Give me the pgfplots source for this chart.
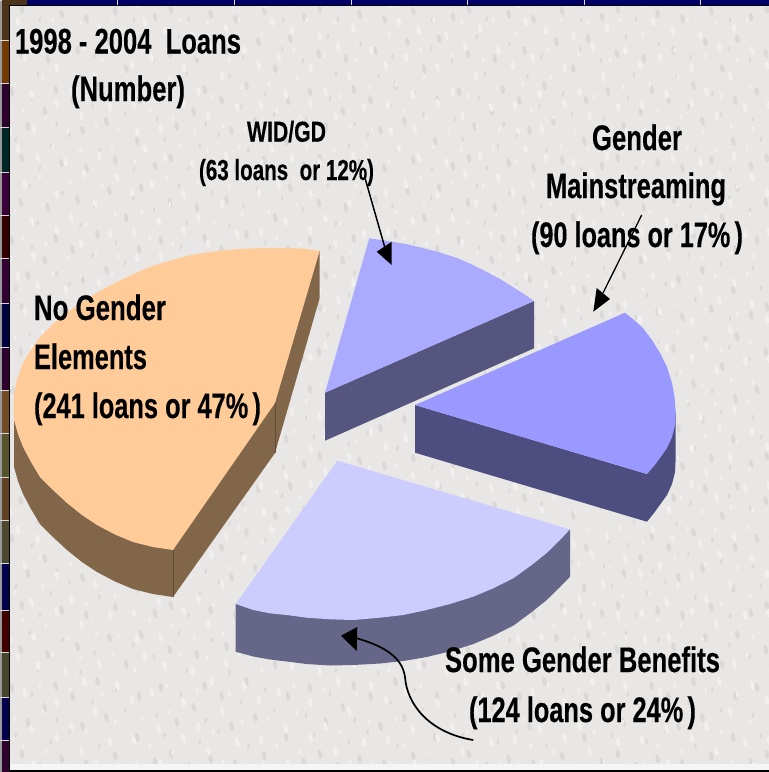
\documentclass[border=0pt]{standalone}
\usepackage{pgfplots}
\pgfplotsset{compat=1.18}
\usetikzlibrary{patterns}
\usepackage{graphicx}
\usepackage{fontspec}
\setmainfont{Liberation Sans}[BoldFont={Liberation Sans Bold},BoldFeatures={FakeBold=0.35}]
\definecolor{bgc}{HTML}{E8E7E5}
\definecolor{speckG}{HTML}{DAD9D7}
\definecolor{speckW}{HTML}{F1F0EF}
\definecolor{navyc}{HTML}{000066}
\definecolor{orangeT}{HTML}{FFCC99}
\definecolor{orangeS}{HTML}{826649}
\definecolor{widT}{HTML}{AAAAFF}
\definecolor{widS}{HTML}{55557F}
\definecolor{gmT}{HTML}{9999FF}
\definecolor{gmS}{HTML}{4D4D80}
\definecolor{sgT}{HTML}{CCCCFF}
\definecolor{sgS}{HTML}{666688}
\newcommand{\sk}[2]{\pgfpathellipse{\pgfpoint{#1pt}{#2pt}}{\pgfpoint{2.2pt}{0.3pt}}{\pgfpoint{-0.8pt}{4.6pt}}}
\newcommand{\sm}[2]{\pgfpathellipse{\pgfpoint{#1pt}{#2pt}}{\pgfpoint{1.2pt}{-0.2pt}}{\pgfpoint{0.5pt}{2.6pt}}}
\pgfdeclarepatternformonly{speckA}{\pgfqpoint{0pt}{0pt}}{\pgfqpoint{149pt}{149pt}}{\pgfqpoint{149pt}{149pt}}{%
 \sk{7}{11}\sm{17}{38}\sk{23}{19}\sm{41}{9}\sm{52}{31}\sk{63}{14}\sm{71}{42}\sk{88}{9}\sm{101}{27}\sk{117}{17}\sm{136}{8}\sk{139}{36}%
 \sm{9}{58}\sk{29}{51}\sk{46}{66}\sm{58}{53}\sk{84}{47}\sm{94}{71}\sk{108}{56}\sm{127}{63}\sk{141}{77}%
 \sk{13}{86}\sm{33}{79}\sm{39}{103}\sk{57}{88}\sk{74}{77}\sm{82}{101}\sk{99}{92}\sm{118}{84}\sk{128}{109}%
 \sm{6}{117}\sk{22}{124}\sk{49}{119}\sm{64}{134}\sk{79}{127}\sm{96}{121}\sk{111}{136}\sm{135}{129}\sm{31}{141}\sk{143}{139}\pgfusepath{fill}}
\pgfdeclarepatternformonly{speckB}{\pgfqpoint{0pt}{0pt}}{\pgfqpoint{127pt}{127pt}}{\pgfqpoint{127pt}{127pt}}{%
 \sk{11}{7}\sm{24}{27}\sk{35}{9}\sm{47}{21}\sk{58}{35}\sm{69}{7}\sk{83}{22}\sm{98}{12}\sk{112}{31}\sm{120}{9}%
 \sk{8}{33}\sm{16}{54}\sk{33}{44}\sm{44}{61}\sk{73}{47}\sm{88}{42}\sk{97}{62}\sm{117}{51}%
 \sk{6}{73}\sk{26}{81}\sm{41}{88}\sk{58}{71}\sm{72}{83}\sk{86}{92}\sm{104}{79}\sk{119}{88}%
 \sm{9}{104}\sk{19}{117}\sk{39}{108}\sm{54}{119}\sk{67}{103}\sm{82}{116}\sk{101}{110}\sm{114}{119}\pgfusepath{fill}}
\newcommand{\lab}[5]{\node[anchor=base west,inner sep=0pt,outer sep=0pt] at (axis cs:#1,#2) {\resizebox{#3pt}{\height}{\fontsize{#4pt}{#4pt}\selectfont\bfseries #5}};}
\newcommand{\sg}[3]{\fill[#3] (axis cs:2,#1) rectangle (axis cs:8.5,#2);\fill[black!15] (axis cs:0,#1) rectangle (axis cs:8.5,#1.9);}
\begin{document}
\begin{tikzpicture}
\begin{axis}[
  scale only axis, width=769pt, height=772pt,
  xmin=0, xmax=769, ymin=0, ymax=772, y dir=reverse,
  hide axis, clip=true]
% background
\addplot[fill=bgc,draw=none] coordinates {(0,0) (769,0) (769,772) (0,772)} --cycle;
\addplot[pattern=speckA,pattern color=speckG,draw=none] coordinates {(0,0) (769,0) (769,772) (0,772)} --cycle;
\addplot[pattern=speckB,pattern color=speckW,draw=none] coordinates {(0,0) (769,0) (769,772) (0,772)} --cycle;
\addplot[fill=black!4,draw=none] coordinates {(9,764) (769,764) (769,770) (9,770)} --cycle;
% frame
\fill[black!40] (axis cs:0,0) rectangle (axis cs:2.2,772);
\sg{0}{40}{black!60!brown}
\sg{40}{83}{orange!45!black}
\sg{83}{127}{violet!35!black}
\sg{127}{172}{teal!30!black}
\sg{172}{215}{violet!45!black}
\sg{215}{258}{red!20!black}
\sg{258}{303}{violet!40!black}
\sg{303}{347}{blue!25!black}
\sg{347}{390}{violet!35!black}
\sg{390}{433}{brown!60!black}
\sg{433}{477}{olive!50!black}
\sg{477}{520}{brown!50!black}
\sg{520}{563}{olive!40!black}
\sg{563}{610}{blue!30!black}
\sg{610}{652}{red!25!black}
\sg{652}{697}{olive!35!black}
\sg{697}{740}{blue!30!black}
\sg{740}{772}{violet!35!black}
\fill[black] (axis cs:8.5,5) rectangle (axis cs:10,772);
\fill[black] (axis cs:8.5,770) rectangle (axis cs:769,772);
\fill[navyc] (axis cs:27,0) rectangle (axis cs:769,5);
\fill[black!60!brown] (axis cs:2,0) rectangle (axis cs:27,5);
\fill[black] (axis cs:8.5,5) rectangle (axis cs:769,6);
\fill[black!15] (axis cs:117,0) rectangle (axis cs:118.4,5);
\fill[black!15] (axis cs:234,0) rectangle (axis cs:235.4,5);
\fill[black!15] (axis cs:350.5,0) rectangle (axis cs:351.9,5);
\fill[black!15] (axis cs:467,0) rectangle (axis cs:468.4,5);
\fill[black!15] (axis cs:583.5,0) rectangle (axis cs:584.9,5);
\fill[black!15] (axis cs:700,0) rectangle (axis cs:701.4,5);
% No Gender Elements: 241 loans
\addplot[fill=orangeS,draw=none] coordinates {(319.7,250.7) (319.7,298) (275,453) (173,597) (153,594) (133,589) (115,581.5) (97,572) (82,562) (67,550) (53,537) (40,524) (31,509) (23,494) (18,481) (14,467) (14,393)} --cycle;
\addplot[fill=orangeT,draw=none] coordinates {(319.7,250.7) (300,248.5) (280,248) (260,248) (240,249) (220,250.7) (203,253) (187,256) (167,261.5) (147,268) (127,277) (107,287) (88,298) (70,310) (54,323) (40,337) (31,350) (23,363) (17.5,378) (14,393) (13.5,407) (14,420) (18,434) (23,447) (31,462) (40,477) (53,490) (67,503) (82,515) (97,525) (115,534.5) (133,542) (153,547) (173,550) (275,403)} --cycle;
\addplot[draw=black!25!orangeS,line width=0.5pt] coordinates {(173,550) (173,597)};
\addplot[draw=black!25!orangeS,line width=0.5pt] coordinates {(275,403) (275,453)};
% WID/GD: 63 loans
\addplot[fill=widS,draw=none] coordinates {(534,301) (534,348.3) (325,440.7) (325,392.7)} --cycle;
\addplot[fill=widT,draw=none] coordinates {(325,392.7) (369.3,238.3) (393,241.7) (408,244.5) (423,248) (440,252.5) (457,258) (472,264.5) (487,272) (500,279) (513,287) (524,294) (534,301)} --cycle;
% Gender Mainstreaming: 90 loans
\addplot[fill=gmS,draw=none] coordinates {(415,405) (415,452.7) (647,521.7) (654,513) (667,495) (672,484) (675,472) (675.7,458) (675.7,411.7) (647,474)} --cycle;
\addplot[fill=gmT,draw=none] coordinates {(415,405) (625,312.7) (634,320) (643,328) (652,340) (660,353) (667,367) (672,383) (674.5,397) (675.7,411.7) (675,425) (672,437) (667,448) (660,458) (654,466) (647,474)} --cycle;
% Some Gender Benefits: 124 loans
\addplot[fill=sgS,draw=none] coordinates {(570,529.3) (570,576.7) (560,587) (546.7,600) (531.7,612) (513.3,625.7) (493.3,635.7) (473.3,644) (450,651.4) (426.7,657) (403.3,661) (380,663.5) (353.3,665) (330,665.5) (306.7,664) (286.7,661.5) (270,659.5) (253.3,656.5) (235.7,651.7) (235.7,604) (337,570)} --cycle;
\addplot[fill=sgT,draw=none] coordinates {(337.3,460.7) (570,529.3) (560,540) (546.7,553) (531.7,565) (513.3,578.3) (493.3,588.3) (473.3,596.7) (450,604) (426.7,610) (403.3,615) (380,617.7) (353.3,620) (330,619.3) (306.7,617.7) (286.7,615) (270,613.3) (253.3,610) (235.7,604)} --cycle;
% arrows
\draw[black,line width=1.5pt] (axis cs:365,178) -- (axis cs:385,248);
\fill[black] (axis cs:391.7,265) -- (axis cs:376.7,251.7) -- (axis cs:391.7,241.7) -- cycle;
\draw[black,line width=1.3pt] (axis cs:641.7,215) -- (axis cs:603,293);
\fill[black] (axis cs:593.3,311.7) -- (axis cs:596.7,288) -- (axis cs:610,299) -- cycle;
\draw[black,line width=1.7pt] (axis cs:473.3,740) .. controls (axis cs:430,733) and (axis cs:407,705) .. (axis cs:405,677) .. controls (axis cs:402,655) and (axis cs:380,645) .. (axis cs:356,638);
\fill[black] (axis cs:341,635.7) -- (axis cs:357.3,627) -- (axis cs:356.7,651) -- cycle;
% labels
\lab{15}{53.5}{226}{35.5}{1998 - 2004\ \ Loans}
\lab{71}{101}{114}{35.5}{(Number)}
\lab{247}{141.7}{79}{29}{WID/GD}
\lab{199}{180}{175}{29}{(63 loans\ \ or 12\%)}
\lab{592}{150}{90}{35.5}{Gender}
\lab{546}{198}{180}{35.5}{Mainstreaming}
\lab{531}{247}{212}{35.5}{(90 loans or 17\%\,)}
\lab{34}{320}{132}{35.5}{No Gender}
\lab{34}{369}{113}{35.5}{Elements}
\lab{34}{418}{227}{35.5}{(241 loans or 47\%\,)}
\lab{445}{672}{275}{35.5}{Some Gender Benefits}
\lab{469}{722}{227}{35.5}{(124 loans or 24\%\,)}
\end{axis}
\end{tikzpicture}
\end{document}
